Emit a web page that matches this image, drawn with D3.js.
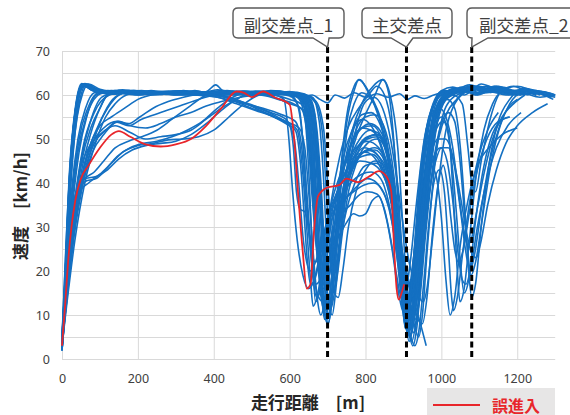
<!DOCTYPE html>
<html><head><meta charset="utf-8">
<script src="https://cdn.jsdelivr.net/npm/d3@7"></script>
<style>body{margin:0;background:#fff}svg{display:block}</style>
</head><body><svg id="c" width="570" height="415"></svg>
<script>
const xTicks = [0, 200, 400, 600, 800, 1000, 1200];
const yTicks = [0, 10, 20, 30, 40, 50, 60, 70];
const yGrid = [0, 5, 10, 15, 20, 25, 30, 35, 40, 45, 50, 55, 60, 65, 70];
const markerDistances = [700, 908, 1080];
const markerLabels = ["副交差点_1", "主交差点", "副交差点_2"];
const legendLabel = "誤進入";
const xTitle = "走行距離　[m]";
const yTitle = "速度　[km/h]";

const redRun = [[0,3],[8,12],[16,22],[25,30],[35,36],[50,41],[70,44],[100,48],[130,51],[150,51.8],[180,50.5],[220,48.8],[260,48.3],[300,48.8],[340,50],[380,53],[420,57],[460,60.8],[480,60.5],[500,59.5],[530,60.8],[560,59.5],[600,57.8],[612,50],[622,38],[635,24],[645,16],[655,17],[665,30],[675,37],[700,39],[730,39.5],[750,41],[780,40.2],[810,41.5],[835,42.7],[855,41.5],[868,38],[875,26],[882,16],[888,13.5],[895,15],[902,17]];

const run01 = [[0,4],[10,25],[25,48],[45,60],[60,62],[100,60.5],[150,61],[200,60],[250,60.5],[300,60],[350,61],[400,60],[450,60.5],[500,60],[550,61],[600,60.5],[630,59.5],[660,60],[680,59],[700,58.2],[720,60],[745,59.3],[770,60.5],[800,59.5],[830,60.3],[860,59.5],[890,60.3],[910,59],[930,59.8],[955,59.2],[980,60],[1000,60.5],[1030,61],[1060,61.5],[1080,62],[1110,61],[1150,61.5],[1200,60],[1250,60.5],[1290,59.5]];
const run02 = [[0,3],[8,18],[20,42],[35,56],[55,62.5],[80,61],[120,60.5],[180,61],[240,60],[300,60.8],[360,60.2],[420,61],[480,60.3],[540,60.8],[600,60.5],[630,59.5],[650,55],[665,40],[680,22],[695,12],[705,10],[715,18],[730,38],[750,55],[770,62],[785,63.5],[805,61],[830,57],[855,50],[875,38],[895,18],[910,8],[922,12],[935,25],[955,45],[975,56],[1000,60.5],[1030,61],[1060,61.5],[1080,62],[1110,61],[1150,62],[1190,60.5],[1230,61],[1270,60],[1300,59.5]];
const run03 = [[0,2],[10,22],[22,44],[38,58],[58,62.5],[90,61.3],[140,60.2],[200,60.8],[260,60.1],[320,61],[380,60.3],[440,60.7],[500,60.1],[560,60.9],[610,60.2],[640,58],[655,48],[668,30],[680,16],[692,11],[705,14],[720,28],[740,42],[765,52],[790,58],[820,62],[845,63.5],[865,60],[885,48],[900,28],[915,10],[928,6],[942,15],[960,35],[980,52],[1000,58],[1030,60],[1055,58],[1070,48],[1080,40],[1090,38],[1105,45],[1130,55],[1160,61],[1200,62],[1240,61],[1280,60.5]];
const run04 = [[0,4],[7,16],[18,38],[32,54],[50,62],[75,61.8],[110,60.4],[170,60.9],[230,60.2],[290,60.7],[350,60],[410,61.2],[470,60.4],[530,60.9],[590,60.2],[620,60],[640,57],[655,45],[668,30],[682,18],[695,9],[702,8],[712,14],[725,26],[745,38],[770,46],[800,50],[830,51],[855,48],[875,40],[892,25],[905,12],[918,7],[930,12],[945,28],[965,48],[985,58],[1010,61],[1040,60.5],[1070,61.5],[1100,62],[1130,61],[1170,60.5],[1210,61],[1250,60]];
const run05 = [[0,3],[9,20],[22,43],[36,57],[52,62.3],[80,61],[130,60.2],[190,61],[250,60.3],[310,60.9],[370,60.1],[430,60.8],[490,60.2],[550,60.7],[600,60.4],[635,58],[650,50],[662,36],[675,22],[690,14],[703,12],[715,18],[730,30],[750,40],[775,45],[805,47.5],[835,46],[860,42],[880,32],[897,18],[910,9],[922,4],[935,10],[952,26],[970,44],[990,55],[1015,60],[1045,61],[1075,62],[1105,60.8],[1145,61.5],[1185,60],[1220,60.5]];
const run06 = [[0,5],[8,17],[20,40],[34,55],[52,62],[78,61.5],[120,60.6],[175,60.3],[235,61],[295,60.2],[355,60.8],[415,60.2],[475,60.9],[535,60.3],[590,60.6],[615,59],[632,52],[645,38],[658,24],[672,15],[688,13],[702,17],[718,30],[738,42],[762,49],[790,52.5],[815,52],[840,49],[862,42],[880,30],[895,15],[905,7],[916,11],[930,24],[948,38],[970,46],[990,50],[1010,50],[1030,46],[1050,34],[1065,24],[1075,20],[1088,24],[1105,34],[1125,44],[1150,52],[1175,57],[1200,59]];
const run07 = [[0,2],[10,21],[24,44],[40,57],[57,62.4],[85,61],[135,60.4],[195,60.9],[255,60.1],[315,60.6],[375,60.2],[435,61],[495,60.3],[555,60.6],[610,60.1],[650,59],[668,52],[680,38],[692,22],[703,13],[712,10],[722,16],[735,30],[752,44],[775,52],[800,55],[825,55.5],[848,53],[868,46],[885,34],[900,22],[915,13],[928,8],[940,5],[950,10],[962,24],[980,42],[1000,54],[1025,59],[1055,60.5],[1085,61.8],[1115,61],[1150,60.5],[1190,61],[1230,60.2],[1265,60.8],[1300,60]];
const run08 = [[0,3],[10,14],[25,32],[45,47],[65,55],[90,60],[130,61],[180,60.3],[240,60.8],[300,60],[360,60.6],[420,60.1],[480,60.9],[540,60.3],[600,60.1],[640,59],[660,55],[675,44],[688,30],[700,20],[712,15],[724,18],[738,28],[755,38],[778,45],[805,49],[830,50],[852,48],[870,40],[885,26],[898,12],[908,9],[920,14],[935,30],[955,48],[975,57],[1000,60],[1030,61],[1060,60.5],[1090,61.5],[1120,62],[1160,61],[1200,60]];
const run09 = [[0,4],[10,13],[28,30],[50,45],[75,54],[105,59.5],[140,60.5],[200,60],[260,60.7],[320,60.1],[380,60.5],[440,60],[500,60.6],[560,60],[585,59],[598,50],[608,38],[620,27],[635,19],[650,16],[665,18],[680,24],[700,32],[725,38],[755,42],[785,45],[815,44.5],[845,42],[868,36],[885,25],[900,14],[912,7],[925,3],[935,7],[948,20],[965,38],[985,52],[1005,58],[1035,60.5],[1065,61],[1095,60],[1130,61],[1170,60],[1210,60.5],[1260,59.5],[1290,60]];
const run10 = [[0,2],[12,15],[30,33],[55,48],[85,56],[125,60],[170,60.8],[230,60.1],[290,60.6],[350,60],[410,59.5],[460,58],[510,56.5],[560,55],[600,53.5],[620,52],[635,42],[645,30],[655,18],[662,12],[672,14],[688,22],[708,32],[735,40],[765,45],[795,48],[825,47],[850,43],[870,35],[887,22],[900,10],[912,6],[925,12],[940,26],[955,38],[970,44],[985,42],[1000,32],[1012,18],[1023,10],[1035,14],[1050,26],[1070,36],[1095,44],[1125,48],[1160,51],[1200,52.5]];
const run11 = [[0,5],[12,14],[32,30],[58,44],[90,52],[120,57],[150,60],[190,61],[250,60.4],[310,60.9],[370,60.2],[430,60.6],[490,60.1],[550,60.8],[610,60.3],[645,59.5],[665,56],[678,42],[688,28],[696,21],[706,20],[718,26],[735,36],[758,45],[785,50],[812,52],[838,51],[860,46],[878,36],[895,20],[908,10],[915,8],[926,13],[942,28],[962,46],[982,56],[1005,60],[1035,61.5],[1065,61],[1095,62],[1130,60.6],[1170,61.3],[1210,60.1],[1245,60.8],[1280,59.8]];
const run12 = [[0,3],[10,12],[30,28],[55,40],[80,47],[110,51],[145,53.8],[175,53],[210,54.5],[260,56],[310,57.5],[360,59],[410,60],[460,59],[510,57],[560,55],[600,53],[610,48],[618,38],[628,34],[640,33.5],[652,28],[662,18],[672,14],[685,17],[700,24],[720,31],[745,36],[775,39],[805,41],[830,40],[852,37],[870,31],[885,22],[898,14],[910,12],[922,16],[938,28],[958,44],[978,54],[1000,59],[1030,60.5],[1060,61],[1090,60],[1125,61],[1160,60.2],[1200,60.5]];
const run13 = [[0,2],[10,15],[25,30],[45,39],[65,40.5],[90,41],[115,43],[145,46],[180,48],[215,49],[250,49.5],[290,50.5],[330,52],[370,54],[410,57],[450,59.5],[490,60.5],[540,60],[590,60.5],[630,59.5],[655,56],[670,46],[682,35],[692,28],[702,25],[715,26],[730,28],[750,31],[768,33],[785,32.5],[800,33],[818,36],[835,37],[852,33],[870,25],[885,16],[898,11],[910,10],[922,14],[940,26],[960,42],[980,53],[1000,58],[1030,60],[1065,61],[1100,60.3],[1140,61],[1180,60]];
const run14 = [[0,4],[10,16],[25,31],[45,38],[70,40],[100,42],[130,44.5],[160,47],[200,48.5],[240,49],[280,49.8],[320,50],[360,50.5],[400,52],[440,55],[480,58],[520,60],[560,60.5],[600,60],[640,59],[660,53],[668,42],[675,30],[682,20],[690,18],[702,22],[720,28],[740,33],[760,35],[780,37],[805,38],[830,37.5],[850,34],[867,27],[882,19],[895,14],[905,15],[918,22],[935,36],[955,50],[975,57],[1000,60],[1030,61],[1060,60],[1090,61.3],[1120,60.5],[1150,61]];
const run15 = [[0,3],[8,14],[20,28],[38,38],[60,41],[85,42.5],[110,45],[140,48],[175,49.5],[210,50.5],[250,52],[290,54.5],[330,57],[370,59.5],[410,60.8],[460,60.2],[510,60.9],[560,60.3],[600,60.8],[625,60],[648,56],[662,42],[675,28],[687,15],[698,9],[708,12],[720,24],[736,40],[752,52],[770,58],[790,60.5],[815,59],[840,54],[862,45],[880,32],[895,18],[906,9],[918,5],[930,10],[945,24],[962,40],[982,52],[1000,55],[1018,52],[1032,36],[1042,20],[1049,13],[1060,16],[1075,28],[1092,42],[1112,52],[1135,58],[1160,61],[1190,62],[1220,61],[1250,60]];
const run16 = [[0,5],[10,18],[25,36],[45,50],[68,57],[95,60.5],[140,61],[200,60.2],[260,60.8],[320,60],[380,60.6],[440,60.1],[500,60.7],[560,60.2],[600,59.8],[625,57],[638,46],[648,32],[658,22],[668,17],[680,18],[695,24],[715,33],[740,41],[770,46],[800,47],[830,45],[855,40],[875,33],[892,26],[908,20],[922,15],[935,11],[948,7],[960,3]];
const run17 = [[0,2],[8,14],[20,35],[35,52],[50,60],[65,62.5],[95,61.2],[150,60.4],[210,60.9],[270,60.2],[330,60.8],[390,60.2],[450,60.9],[510,60.3],[570,60.8],[620,60.1],[655,59],[672,52],[684,38],[694,22],[705,11],[716,14],[730,26],[750,38],[775,46],[805,50],[832,50.5],[855,47],[872,38],[886,25],[898,12],[910,13],[925,22],[945,36],[965,46],[985,52],[1005,54],[1020,50],[1035,38],[1048,24],[1060,15],[1072,18],[1088,30],[1108,42],[1130,50],[1155,54],[1180,55]];
const run18 = [[0,4],[12,14],[30,30],[50,42],[75,51],[100,57],[120,60],[160,61.2],[220,60.4],[280,60.9],[340,60.3],[400,60.8],[460,60.2],[520,60.7],[575,60.3],[620,59.5],[640,55],[652,40],[660,24],[668,13],[678,15],[692,24],[710,36],[732,46],[756,53],[782,57],[808,60],[830,62],[850,60],[870,52],[886,38],[900,20],[912,9],[922,7],[934,14],[950,30],[970,48],[990,57],[1015,60.5],[1045,61.5],[1075,61],[1105,62.5],[1140,61.5],[1180,60.5],[1215,61],[1250,60]];
const run19 = [[0,3],[12,13],[32,29],[58,42],[85,49],[115,52],[148,54],[175,53.5],[205,55],[240,57],[280,58.5],[320,59.5],[360,60.2],[410,60.6],[460,60],[510,60.5],[560,59.5],[600,58],[630,57],[648,50],[660,36],[672,24],[684,18],[698,20],[714,28],[735,40],[760,48],[790,52.5],[818,53],[843,50],[864,43],[882,32],[898,20],[913,12],[930,9],[942,13],[958,28],[978,44],[998,53],[1018,56],[1035,54],[1048,46],[1060,34],[1070,24],[1078,19],[1090,22],[1108,32],[1130,44],[1155,53],[1180,58],[1210,60.5],[1240,61],[1270,60],[1295,59]];
const run20 = [[0,3],[9,18],[22,42],[38,57],[60,62.6],[90,61.3],[140,60.5],[200,60.9],[260,60.2],[320,60.6],[380,60.2],[430,59.5],[480,58],[530,57],[580,55.5],[615,54],[632,48],[645,34],[657,25],[668,22],[680,24],[696,30],[718,38],[745,44],[775,48],[805,49.5],[835,48],[858,43],[876,35],[892,22],[905,11],[916,5],[926,8],[940,20],[958,38],[978,52],[998,58],[1025,60.5],[1055,61.8],[1085,61],[1118,62],[1155,61],[1195,60.6],[1230,60]];
const run21 = [[0,2],[10,12],[28,27],[50,40],[72,48],[100,53],[130,55],[165,57],[200,59],[250,60.3],[300,60.9],[350,60.1],[400,60.7],[450,60.2],[500,60.8],[550,60.1],[600,60.5],[640,60],[670,58],[688,50],[698,36],[708,22],[718,15],[728,14],[740,20],[755,30],[775,38],[800,43],[825,45],[848,44],[868,38],[885,30],[902,22],[918,15],[933,10],[950,8],[962,14],[976,28],[992,40],[1005,44],[1015,40],[1025,32],[1035,25],[1045,22],[1058,25],[1075,34],[1095,43],[1120,50],[1150,54],[1180,55]];
const run22 = [[0,4],[10,17],[25,32],[42,39],[62,41],[90,41.5],[120,43],[150,45.5],[185,47.5],[220,48.5],[260,49],[300,49.5],[340,51],[380,53.5],[420,56.5],[460,59],[500,60.5],[550,60],[600,60.7],[640,60.2],[662,57],[675,45],[686,28],[694,14],[700,8],[710,12],[722,28],[738,45],[755,56],[770,61],[782,63.5],[800,62],[822,58],[845,52],[866,42],[882,28],[898,12],[910,9],[922,16],[940,34],[960,50],[980,58],[1005,61],[1040,60.5],[1070,61.5],[1100,60.5],[1135,61.8],[1170,60.8],[1210,61.2],[1260,60]];
const run23 = [[0,3],[10,20],[25,38],[42,50],[62,57],[85,60.5],[120,61],[175,60.3],[235,60.8],[295,60.2],[355,60.7],[415,60],[455,59],[500,57.5],[545,56],[590,54],[625,52.5],[640,48],[652,36],[664,22],[674,13],[682,10],[692,13],[706,24],[722,36],[742,46],[765,52],[790,55.5],[815,56],[840,53],[862,46],[880,34],[896,18],[906,9],[915,6],[926,11],[940,26],[958,42],[976,52],[995,57],[1015,59],[1035,57],[1050,48],[1062,34],[1072,20],[1080,14],[1090,17],[1105,30],[1125,44],[1150,54],[1180,59],[1215,61.5],[1250,61],[1280,60.5],[1300,60]];
const run24 = [[0,2],[8,17],[21,41],[37,56],[56,62.5],[85,61.5],[130,60.5],[185,61],[245,60.2],[305,60.8],[365,60.1],[425,60.7],[485,60.1],[545,60.8],[600,60.2],[630,59.5],[650,56],[663,45],[674,30],[685,18],[695,12],[706,15],[720,26],[740,37],[765,44],[795,47],[825,47.5],[850,45],[870,38],[888,28],[903,18],[915,12],[925,10],[937,14],[952,26],[972,40],[992,50],[1015,56],[1040,59],[1065,61],[1095,61.5],[1125,61],[1160,61.5],[1200,60.5],[1240,60.8],[1270,60]];
const run25 = [[0,3],[10,13],[30,29],[55,42],[80,49],[110,52.5],[145,54],[180,53],[220,52.5],[260,53.5],[300,55],[340,56],[380,57.5],[420,58.5],[470,59.5],[520,60],[570,59],[610,58],[640,56],[655,50],[665,38],[674,28],[682,25],[694,27],[712,32],[735,37],[760,40],[790,42],[815,42.5],[840,41],[860,36],[877,28],[892,19],[905,14],[918,15],[932,22],[950,36],[970,50],[990,57],[1015,60],[1045,61],[1075,61.8],[1105,61],[1140,62],[1175,61],[1210,60]];
const run26 = [[0,4],[10,20],[24,42],[40,55],[55,60.5],[70,62.5],[100,61.3],[150,60.6],[210,61],[270,60.3],[330,60.9],[390,60.1],[450,60.6],[510,60.2],[570,60.8],[625,60.3],[660,59.5],[678,54],[690,40],[698,26],[705,17],[714,15],[725,20],[740,34],[756,46],[772,53],[792,54.5],[815,53],[838,49],[858,42],[876,32],[893,20],[907,11],[920,5],[930,3],[940,6],[952,16],[966,30],[980,40],[995,43],[1008,38],[1018,26],[1026,15],[1032,11],[1042,14],[1056,24],[1075,36],[1098,46],[1122,52],[1150,56]];
const run27 = [[0,2],[9,15],[24,33],[42,47],[64,55],[100,60.2],[140,61],[195,60.2],[255,60.8],[315,60.1],[375,60.7],[435,60.1],[495,60.6],[555,60.1],[605,60.5],[638,59.3],[656,54],[668,40],[678,24],[686,13],[692,9],[702,12],[715,22],[732,34],[752,43],[778,48],[805,50.5],[832,51],[855,48],[873,40],[888,27],[898,14],[905,7],[914,10],[926,22],[942,38],[960,52],[978,58],[1000,61],[1030,61.8],[1060,61],[1090,62],[1125,61.2],[1160,61.8],[1200,60.8],[1245,61],[1290,60]];
const run28 = [[0,3],[10,14],[25,30],[45,42],[70,48],[100,51],[140,53],[180,51.5],[220,50],[260,50.5],[300,51],[340,52],[380,54.5],[420,57],[460,59],[500,60.5],[550,60.2],[600,59],[630,58],[650,55],[662,44],[672,30],[680,20],[690,16],[702,18],[718,26],[740,36],[766,43],[795,47],[825,48],[850,46],[870,40],[886,30],[900,19],[912,12],[922,9],[934,13],[950,26],[970,42],[990,54],[1010,59],[1040,61],[1075,62.3],[1110,61.5],[1145,62],[1185,60.8],[1225,61.2],[1265,60.3]];
const run29 = [[0,5],[8,20],[20,43],[35,57],[52,62.6],[78,61.6],[120,60.8],[175,61],[235,60.3],[295,60.8],[355,60.2],[415,60.7],[475,60.1],[535,60.7],[595,60.3],[640,60],[670,58.5],[690,52],[702,38],[712,26],[720,21],[730,24],[745,35],[762,46],[780,54],[800,58.5],[822,59.5],[845,57],[866,50],[884,40],[900,30],[915,22],[930,17],[942,14],[952,13],[962,16],[975,26],[992,40],[1012,52],[1035,58],[1060,60.5],[1085,62],[1115,61],[1150,61.6],[1190,60.5],[1230,61]];
const run30 = [[0,4],[12,13],[32,28],[58,41],[85,50],[112,56],[140,59.5],[180,60.8],[240,60.2],[300,60.7],[360,60.1],[410,59.5],[455,58.5],[500,57],[545,55.5],[590,53.5],[615,52],[628,45],[638,33],[647,22],[655,17],[666,18],[682,24],[704,32],[730,39],[760,44],[790,46],[818,46.5],[842,44],[862,38],[880,28],[895,16],[906,10],[916,8],[928,12],[944,24],[962,38],[980,46],[998,48],[1015,45],[1030,36],[1044,24],[1055,18],[1065,17],[1078,21],[1095,30],[1118,40],[1145,48],[1175,53],[1210,56]];
const run31 = [[0,3],[9,19],[22,42],[38,56],[58,62.4],[88,61.2],[135,60.3],[195,60.9],[255,60.2],[315,60.7],[375,60.1],[435,60.6],[495,60],[555,60.6],[605,60.2],[640,59.6],[660,55],[670,44],[679,30],[686,20],[692,16],[702,18],[716,28],[735,40],[758,48],[785,52],[812,53.5],[838,52],[860,46],[878,35],[893,20],[905,9],[915,4],[925,8],[938,20],[955,38],[975,52],[995,58],[1020,60.5],[1050,61.3],[1080,62],[1110,61],[1145,61.5],[1180,60.8],[1220,61],[1260,60.4],[1300,59.8]];
const run32 = [[0,2],[11,14],[30,31],[52,45],[78,53],[100,57],[120,60],[165,60.8],[225,60.1],[285,60.6],[345,60],[385,61],[405,62.3],[430,60.5],[480,60.2],[540,60.8],[595,60.3],[635,59.8],[658,56],[672,44],[683,30],[692,18],[700,12],[710,14],[724,22],[745,32],[772,40],[800,44],[828,44.5],[852,42],[872,36],[888,26],[902,16],[913,10],[922,9],[934,14],[950,26],[968,38],[985,45],[1000,48],[1018,48],[1035,44],[1052,36],[1068,28],[1080,24],[1092,23],[1105,27],[1122,35],[1145,43],[1170,49],[1200,53],[1240,56],[1280,58]];
const run33 = [[0,3],[12,12],[34,27],[60,40],[88,49],[115,55],[140,58],[170,60],[220,60.8],[280,60.1],[340,60.6],[400,60],[450,59],[500,57.8],[550,56],[590,54.5],[612,50],[624,40],[635,28],[645,22],[655,20],[668,22],[688,28],[712,33],[740,36],[768,38],[795,39.5],[822,40],[846,38],[866,33],[882,24],[895,14],[906,11],[918,15],[934,28],[954,44],[975,54],[998,59],[1028,61],[1058,61.5],[1090,60.5],[1125,61.3],[1165,60.5]];
const run34 = [[0,4],[9,19],[22,42],[37,56],[55,62.2],[82,61],[125,60.4],[180,60.9],[240,60.2],[300,60.8],[360,60.2],[420,60.8],[480,60.1],[540,60.7],[600,60.3],[640,59.8],[662,56],[676,44],[686,28],[694,16],[700,10],[708,12],[720,22],[736,34],[755,44],[778,51],[802,56],[825,60],[846,63.5],[862,60],[876,48],[888,32],[898,16],[906,8],[914,10],[926,22],[942,40],[960,52],[978,56],[995,57],[1012,55],[1030,48],[1045,38],[1058,30],[1068,26],[1078,27],[1092,33],[1112,42],[1135,50],[1160,55],[1190,58],[1220,60]];

const blueRuns = [run01,run02,run03,run04,run05,run06,run07,run08,run09,run10,run11,run12,run13,run14,run15,run16,run17,run18,run19,run20,run21,run22,run23,run24,run25,run26,run27,run28,run29,run30,run31,run32,run33,run34];

const pLeft = 62, pRight = 555.2, pTop = 51, pBottom = 359;
const svg = d3.select("#c");
const x = d3.scaleLinear().domain([0, 1300]).range([pLeft, pRight]);
const y = d3.scaleLinear().domain([0, 70]).range([pBottom, pTop]);
const tickFont = "'Noto Sans', 'Liberation Sans', sans-serif";
const cjkFont = "'Noto Sans CJK JP', 'Noto Sans', sans-serif";

const yAxis = svg.append("g").attr("transform", `translate(${pLeft},0)`)
  .call(d3.axisLeft(y).tickValues(yGrid).tickSize(-(pRight - pLeft)).tickPadding(12)
    .tickFormat(d => yTicks.includes(d) ? String(d) : ""));
yAxis.select(".domain").remove();
yAxis.selectAll("line").attr("stroke", "#d9d9d9").attr("stroke-width", 1);
yAxis.selectAll("text").attr("fill", "#404040").style("font-family", tickFont).style("font-size", "12.5px");

const xAxis = svg.append("g").attr("transform", `translate(0,${pBottom})`)
  .call(d3.axisBottom(x).tickValues(xTicks).tickSize(-(pBottom - pTop)).tickPadding(15)
    .tickFormat(d => String(d)));
xAxis.select(".domain").remove();
xAxis.selectAll("line").attr("stroke", "#d9d9d9").attr("stroke-width", 1);
xAxis.selectAll("text").attr("fill", "#404040").style("font-family", tickFont).style("font-size", "12.5px");

const line = d3.line().x(d => x(d[0])).y(d => y(d[1])).curve(d3.curveMonotoneX);

svg.append("g").selectAll("path").data(blueRuns).join("path")
  .attr("d", line).attr("fill", "none").attr("stroke", "#1470c2")
  .attr("stroke-width", 1.6).attr("stroke-linejoin", "round");

svg.append("path").attr("d", line(redRun)).attr("fill", "none")
  .attr("stroke", "#e8262b").attr("stroke-width", 1.8);

const tipY = 47;
svg.append("g").selectAll("line").data(markerDistances).join("line")
  .attr("x1", d => x(d)).attr("x2", d => x(d)).attr("y1", tipY).attr("y2", pBottom)
  .attr("stroke", "#000").attr("stroke-width", 3).attr("stroke-dasharray", "6,3.5");

const boxes = [
  {L: 233, R: 344, a: 313, b: x(markerDistances[0]) + 1.5, anchor: "middle"},
  {L: 362, R: 452, a: 391, b: 413, anchor: "middle"},
  {L: 467, R: 600, a: 472, b: 488, anchor: "start"}
];
const T = 8, B = 38, r = 5;
boxes.forEach((bx, i) => {
  const tx = x(markerDistances[i]);
  const p = `M${bx.L + r},${T} H${bx.R - r} Q${bx.R},${T} ${bx.R},${T + r} V${B - r} Q${bx.R},${B} ${bx.R - r},${B} H${bx.b} L${tx},${tipY} L${bx.a},${B} H${bx.L + r} Q${bx.L},${B} ${bx.L},${B - r} V${T + r} Q${bx.L},${T} ${bx.L + r},${T} Z`;
  svg.append("path").attr("d", p).attr("fill", "#fff").attr("stroke", "#595959").attr("stroke-width", 1.4);
  svg.append("text")
    .attr("x", bx.anchor === "middle" ? (bx.L + bx.R) / 2 : 479)
    .attr("y", (T + B) / 2 + 1)
    .attr("text-anchor", bx.anchor).attr("dominant-baseline", "central")
    .attr("fill", "#404040").style("font-family", cjkFont).style("font-size", "17.5px")
    .text(markerLabels[i]);
});

svg.append("text").attr("x", 308).attr("y", 401.5).attr("text-anchor", "middle")
  .attr("dominant-baseline", "central").attr("fill", "#262626")
  .style("font-family", cjkFont).style("font-size", "17px").style("font-weight", "bold").text(xTitle);
svg.append("text").attr("transform", "translate(19,206) rotate(-90)").attr("text-anchor", "middle")
  .attr("dominant-baseline", "central").attr("fill", "#262626")
  .style("font-family", cjkFont).style("font-size", "17px").style("font-weight", "bold").text(yTitle);

svg.append("rect").attr("x", 427).attr("y", 388).attr("width", 128).attr("height", 40).attr("fill", "#e7e6e6");
svg.append("line").attr("x1", 433).attr("x2", 480).attr("y1", 405).attr("y2", 405)
  .attr("stroke", "#e8262b").attr("stroke-width", 2);
svg.append("text").attr("x", 492).attr("y", 404.5).attr("dominant-baseline", "central")
  .attr("fill", "#e8262b").style("font-family", cjkFont).style("font-size", "16px").style("font-weight", "bold")
  .text(legendLabel);
</script></body></html>
